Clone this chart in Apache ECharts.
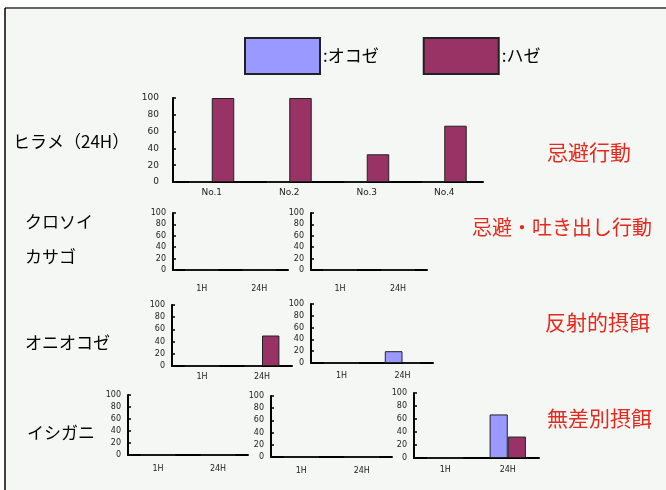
<!DOCTYPE html>
<html lang="ja">
<head>
<meta charset="UTF-8">
<title>chart</title>
<script src="https://cdn.jsdelivr.net/npm/echarts@6/dist/echarts.min.js"></script>
<style>
  * { margin: 0; padding: 0; }
  body { background: #fff; }
  #main { width: 666px; height: 490px; }
</style>
</head>
<body>
<div id="main"></div>
<script>
// categories
const trialCategories = ['No.1', 'No.2', 'No.3', 'No.4'];
const timeCategories = ['1H', '24H'];
const seriesNames = ['オコゼ', 'ハゼ'];
const speciesLabels = ['ヒラメ（24H）', 'クロソイ', 'カサゴ', 'オニオコゼ', 'イシガニ'];
const behaviorLabels = ['忌避行動', '忌避・吐き出し行動', '反射的摂餌', '無差別摂餌'];

// values (%) per panel: [オコゼ, ハゼ]
const hirameOkoze = [0, 0, 0, 0];
const hirameHaze = [100, 100, 33, 67];
const kurosoiOkoze = [0, 0];
const kurosoiHaze = [0, 0];
const kasagoOkoze = [0, 0];
const kasagoHaze = [0, 0];
const onioOkozeA = [0, 0];
const onioHazeA = [0, 50];
const onioOkozeB = [0, 20];
const onioHazeB = [0, 0];
const ishiganiOkozeA = [0, 0];
const ishiganiHazeA = [0, 0];
const ishiganiOkozeB = [0, 0];
const ishiganiHazeB = [0, 0];
const ishiganiOkozeC = [0, 67];
const ishiganiHazeC = [0, 33];

const yTicks = [0, 20, 40, 60, 80, 100];

const COLORS = ['#9999ff', '#993366'];

// panel layout: grid box, label sizes
const panels = [
  { cats: trialCategories, d: [hirameOkoze, hirameHaze], g: [173, 98, 310, 84], fs: 9, ym: 14, xm: 6 },
  { cats: timeCategories, d: [kurosoiOkoze, kurosoiHaze], g: [173, 213, 115, 57], fs: 8, ym: 7, xm: 15 },
  { cats: timeCategories, d: [kasagoOkoze, kasagoHaze], g: [311, 213, 116, 57], fs: 8, ym: 7, xm: 15 },
  { cats: timeCategories, d: [onioOkozeA, onioHazeA], g: [172, 305, 120, 61], fs: 8, ym: 7, xm: 7 },
  { cats: timeCategories, d: [onioOkozeB, onioHazeB], g: [311, 304, 122, 59], fs: 8, ym: 7, xm: 9 },
  { cats: timeCategories, d: [ishiganiOkozeA, ishiganiHazeA], g: [128, 395, 120, 60], fs: 8, ym: 7, xm: 10 },
  { cats: timeCategories, d: [ishiganiOkozeB, ishiganiHazeB], g: [271, 396, 121, 61], fs: 8, ym: 7, xm: 10 },
  { cats: timeCategories, d: [ishiganiOkozeC, ishiganiHazeC], g: [414, 393, 125, 65], fs: 8, ym: 7, xm: 8 }
];

const grid = [], xAxis = [], yAxis = [], series = [];
panels.forEach((p, i) => {
  grid.push({ left: p.g[0], top: p.g[1], width: p.g[2], height: p.g[3] });
  xAxis.push({
    type: 'category', gridIndex: i, data: p.cats,
    axisLine: { lineStyle: { color: '#000', width: 2 } },
    axisTick: { length: 2, lineStyle: { color: '#000', width: 2 } },
    axisLabel: { fontSize: p.fs, color: '#222', margin: p.xm, fontFamily: 'DejaVu Sans' }
  });
  yAxis.push({
    type: 'value', gridIndex: i, min: yTicks[0], max: yTicks[yTicks.length - 1], interval: 20,
    splitLine: { show: false },
    axisLine: { show: true, lineStyle: { color: '#000', width: 2 } },
    axisTick: { show: true, inside: true, length: 3, lineStyle: { color: '#000', width: 1.5 } },
    axisLabel: { fontSize: p.fs, color: '#222', margin: p.ym, fontFamily: 'DejaVu Sans' }
  });
  p.d.forEach((vals, k) => {
    series.push({
      type: 'bar', name: seriesNames[k], xAxisIndex: i, yAxisIndex: i,
      data: vals, barWidth: '29%', barGap: '0%',
      itemStyle: { color: COLORS[k], borderColor: '#222', borderWidth: 1 },
      animation: false
    });
  });
});

// side labels
const leftPos = [[13, 142], [25, 222], [25, 257], [25, 343], [27, 433]];
const rightPos = [[547, 152], [472, 227], [545, 322], [547, 418]];
const graphic = [
  { type: 'rect', shape: { x: 6, y: 9, width: 660, height: 481 }, style: { fill: '#f4f7f4' }, z: -10 },
  { type: 'line', shape: { x1: 5, y1: 8, x2: 666, y2: 8 }, style: { stroke: '#666', lineWidth: 2 } },
  { type: 'line', shape: { x1: 5, y1: 8, x2: 5, y2: 490 }, style: { stroke: '#000', lineWidth: 1.5 } }
];
speciesLabels.forEach((t, i) => {
  graphic.push({
    type: 'text', x: leftPos[i][0], y: leftPos[i][1],
    style: { text: t, fill: '#000', font: '17px "Noto Sans CJK JP"', textVerticalAlign: 'middle' }
  });
});
behaviorLabels.forEach((t, i) => {
  graphic.push({
    type: 'text', x: rightPos[i][0], y: rightPos[i][1],
    style: { text: t, fill: '#e8281c', font: (i === 1 ? 20 : 21) + 'px "Noto Sans CJK JP"', textVerticalAlign: 'middle' }
  });
});

const chart = echarts.init(document.getElementById('main'));
chart.setOption({
  animation: false,
  legend: {
    data: seriesNames, left: 244, top: 37, padding: 0, icon: 'rect',
    itemWidth: 75, itemHeight: 36, itemGap: 44,
    formatter: ':{name}',
    textStyle: { fontSize: 17, color: '#000', fontFamily: 'Noto Sans CJK JP', padding: [0, 0, 0, -2] }
  },
  grid, xAxis, yAxis, series, graphic
});
</script>
</body>
</html>
